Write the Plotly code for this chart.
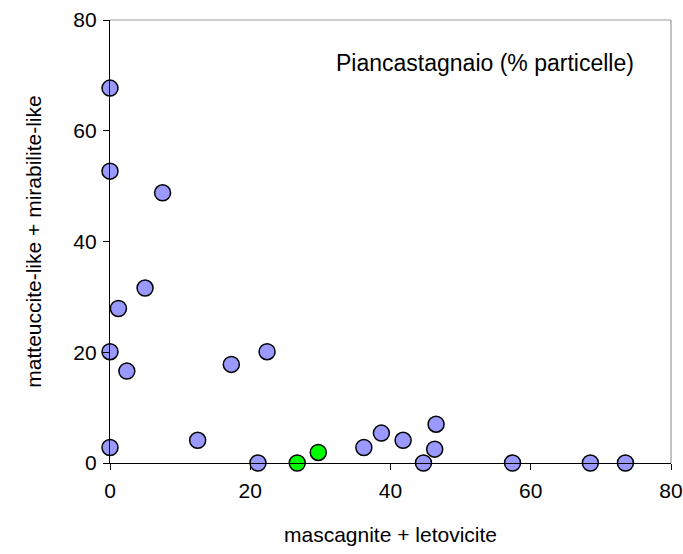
import plotly.graph_objects as go

# Blue series (mascagnite + letovicite vs matteuccite-like + mirabilite-like)
blue_x = [0, 0, 7.5, 5.0, 1.2, 0, 2.4, 17.3, 22.4, 0, 12.5, 21.1,
          36.2, 38.7, 41.8, 44.7, 46.3, 46.5, 57.4, 68.5, 73.5]
blue_y = [67.7, 52.7, 48.8, 31.6, 27.9, 20.1, 16.6, 17.8, 20.1, 2.8, 4.1, 0,
          2.8, 5.4, 4.1, 0, 2.5, 7.0, 0, 0, 0]

# Green series
green_x = [26.7, 29.7]
green_y = [0, 1.9]

x_ticks = [0, 20, 40, 60, 80]
y_ticks = [0, 20, 40, 60, 80]

FONT = "Liberation Sans, Arial, sans-serif"
FS_TICK = 21
FS_TITLE = 21
FS_NOTE = 23

fig = go.Figure()
fig.add_trace(go.Scatter(
    x=blue_x, y=blue_y, mode="markers", cliponaxis=False,
    marker=dict(size=16, color="#9999FF", line=dict(color="black", width=1.5)),
    showlegend=False))
fig.add_trace(go.Scatter(
    x=green_x, y=green_y, mode="markers", cliponaxis=False,
    marker=dict(size=16, color="#00FF00", line=dict(color="black", width=1.5)),
    showlegend=False))

axis_common = dict(
    showgrid=False, zeroline=False, showline=True, linecolor="black", linewidth=1.2,
    ticks="outside", ticklen=6, tickcolor="black", tickwidth=1, automargin=False,
    tickfont=dict(family=FONT, size=FS_TICK, color="black"),
)

fig.update_xaxes(range=[0, 80], tickvals=x_ticks, ticktext=[str(v) for v in x_ticks],
                 ticklabelstandoff=3,
                 title=dict(text="mascagnite + letovicite", standoff=26,
                            font=dict(family=FONT, size=FS_TITLE, color="black")),
                 **axis_common)
fig.update_yaxes(range=[0, 80], tickvals=y_ticks, ticktext=[str(v) for v in y_ticks],
                 ticklabelstandoff=2,
                 title=dict(text="matteuccite-like + mirabilite-like", standoff=25,
                            font=dict(family=FONT, size=FS_TITLE, color="black")),
                 **axis_common)

# gray frame on top and right
fig.add_shape(type="line", xref="paper", yref="paper", x0=0, x1=1, y0=1, y1=1,
              line=dict(color="#999999", width=1.2))
fig.add_shape(type="line", xref="paper", yref="paper", x0=1, x1=1, y0=0, y1=1,
              line=dict(color="#999999", width=1.2))

fig.add_annotation(text="Piancastagnaio (% particelle)", xref="paper", yref="paper",
                   x=0.669, y=0.903, showarrow=False, xanchor="center", yanchor="middle",
                   font=dict(family=FONT, size=FS_NOTE, color="black"))

fig.update_layout(
    width=683, height=554,
    margin=dict(l=110, r=12, t=20, b=91),
    paper_bgcolor="white", plot_bgcolor="white",
    font=dict(family=FONT, size=FS_TITLE, color="black"),
)

fig.write_html("out.html", config={"displayModeBar": False},
               post_script="document.body.style.margin='0';document.body.style.overflow='hidden';")
